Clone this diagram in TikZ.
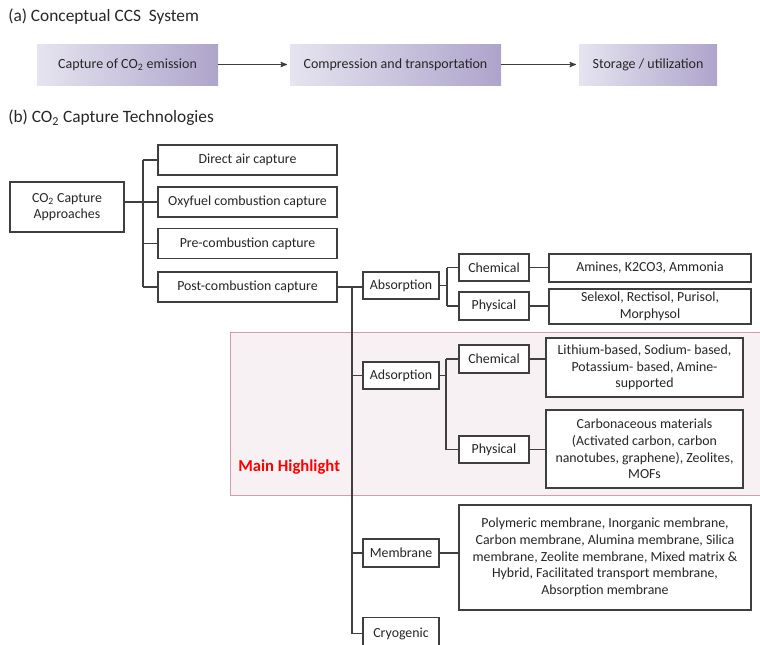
\documentclass[tikz,border=0pt]{standalone}
\usepackage{fontspec}
\setmainfont{Carlito}
\usepackage{xcolor}
\usetikzlibrary{arrows,positioning}
\definecolor{lila}{HTML}{AEA4CB}
\definecolor{lilaclaro}{HTML}{E6E4F0}
\definecolor{linea}{HTML}{3F3F3F}
\definecolor{rosa}{HTML}{D99AAA}
\definecolor{rosafondo}{HTML}{F7F1F3}
\newcommand{\cod}{CO\textsubscript{2}}

\begin{document}
\begin{tikzpicture}[x=0.75pt,y=-0.75pt]
\tikzset{
    etapa/.style={rectangle, left color=lilaclaro, right color=lila, draw=none,
                  inner sep=0pt, minimum height=30.75pt, text=black!85, font=\fontsize{10.5}{12}\selectfont},
    caja/.style={rectangle, draw=linea, line width=0.9pt, fill=white, inner sep=0pt,
                 align=center, text=black!85, font=\fontsize{10.4}{12.5}\selectfont},
    flecha/.style={->, >=stealth', shorten >=2pt, line width=0.8pt, draw=linea},
    rama/.style={line width=0.9pt, draw=linea},
    titulo/.style={anchor=west, inner sep=0pt, text=black!85, font=\fontsize{13}{15}\selectfont}
}
\useasboundingbox (0,0) rectangle (760,644);

% (a) concepto
\node[titulo] (ta) at (8,17) {(a) Conceptual CCS\ \ System};
\node[etapa, minimum width=135.75pt] (captura) at (127.5,64.5) {Capture of \cod{} emission};
\node[etapa, minimum width=158.25pt] (compresion) at (395.5,64.5) {Compression and transportation};
\node[etapa, minimum width=103.5pt] (almacen) at (648,64.5) {Storage / utilization};
\draw[flecha] (captura) -- (compresion);
\draw[flecha] (compresion) -- (almacen);

% (b) tecnologias
\node[titulo] (tb) at (8,118) {(b) \cod{} Capture Technologies};

% zona destacada
\draw[rosa, fill=rosafondo, line width=0.6pt] (230,332) rectangle (764,495);
\node[anchor=west, text=red, inner sep=0pt, font=\fontsize{12.5}{14}\selectfont\bfseries] (destacado) at (238,467) {Main Highlight};

\node[caja, minimum width=85.5pt, minimum height=37.5pt] (raiz) at (67,207) {\cod{} Capture\\Approaches};
\node[caja, minimum width=134.25pt, minimum height=22.5pt] (dac) at (247.5,160) {Direct air capture};
\node[caja, minimum width=134.25pt, minimum height=22.5pt] (oxy) at (247.5,202) {Oxyfuel combustion capture};
\node[caja, minimum width=134.25pt, minimum height=23pt] (pre) at (247.5,243.5) {Pre-combustion capture};
\node[caja, minimum width=134.25pt, minimum height=22.5pt] (post) at (247.5,287) {Post-combustion capture};

\node[caja, minimum width=57pt, minimum height=20.25pt] (abs) at (401,285.5) {Absorption};
\node[caja, minimum width=52.5pt, minimum height=20.25pt] (absq) at (494,267.5) {Chemical};
\node[caja, minimum width=52.5pt, minimum height=21pt] (absf) at (494,306) {Physical};
\node[caja, minimum width=151.5pt, minimum height=21pt] (absqx) at (650,268) {Amines, K2CO3, Ammonia};
\node[caja, minimum width=151.5pt, minimum height=26.25pt] (absfx) at (650,306.5) {Selexol, Rectisol, Purisol,\\Morphysol};

\node[caja, minimum width=57pt, minimum height=20.25pt] (ads) at (401,375.5) {Adsorption};
\node[caja, minimum width=52.5pt, minimum height=21pt] (adsq) at (494,359) {Chemical};
\node[caja, minimum width=52.5pt, minimum height=20.25pt] (adsf) at (494,449.5) {Physical};
\node[caja, minimum width=147.75pt, minimum height=44.25pt] (adsqx) at (644.5,367.5) {Lithium-based, Sodium- based,\\Potassium- based, Amine-\\supported};
\node[caja, minimum width=147.75pt, minimum height=58.5pt] (adsfx) at (644.5,449) {Carbonaceous materials\\(Activated carbon, carbon\\nanotubes, graphene), Zeolites,\\MOFs};

\node[caja, minimum width=57pt, minimum height=21pt] (mem) at (401,553) {Membrane};
\node[caja, minimum width=219pt, minimum height=78.75pt] (memx) at (605,557.5) {Polymeric membrane, Inorganic membrane,\\Carbon membrane, Alumina membrane, Silica\\membrane, Zeolite membrane, Mixed matrix \&\\Hybrid, Facilitated transport membrane,\\Absorption membrane};
\node[caja, minimum width=57pt, minimum height=24pt, anchor=north] (crio) at (401,617) {Cryogenic};

% conectores
\coordinate (tronco) at (143,0);
\coordinate (tronco2) at (352,0);
\coordinate (nabs) at (447,0);
\coordinate (nads) at (446,0);
\draw[rama] (raiz.east |- oxy) -- (oxy.west);
\draw[rama] (tronco |- dac) -- (tronco |- post);
\foreach \n in {dac,pre,post}
  \draw[rama] (tronco |- \n) -- (\n.west);
\draw[rama] (post.east) -- (post.east -| abs.west);
\draw[rama] (tronco2 |- post) -- (tronco2 |- crio);
\foreach \n in {ads,mem,crio}
  \draw[rama] (tronco2 |- \n) -- (\n.west);
\draw[rama] (abs.east) -- (nabs |- abs);
\draw[rama] (nabs |- absq) -- (nabs |- absf);
\draw[rama] (nabs |- absq) -- (absq.west);
\draw[rama] (nabs |- absf) -- (absf.west);
\draw[rama] (absq.east) -- (absq.east -| absqx.west);
\draw[rama] (absf.east) -- (absf.east -| absfx.west);
\draw[rama] (ads.east) -- (nads |- ads);
\draw[rama] (nads |- adsq) -- (nads |- adsf);
\draw[rama] (nads |- adsq) -- (adsq.west);
\draw[rama] (nads |- adsf) -- (adsf.west);
\draw[rama] (adsq.east) -- (adsq.east -| adsqx.west);
\draw[rama] (adsf.east) -- (adsf.east -| adsfx.west);
\draw[rama] (mem.east) -- (mem.east -| memx.west);
\end{tikzpicture}
\end{document}
